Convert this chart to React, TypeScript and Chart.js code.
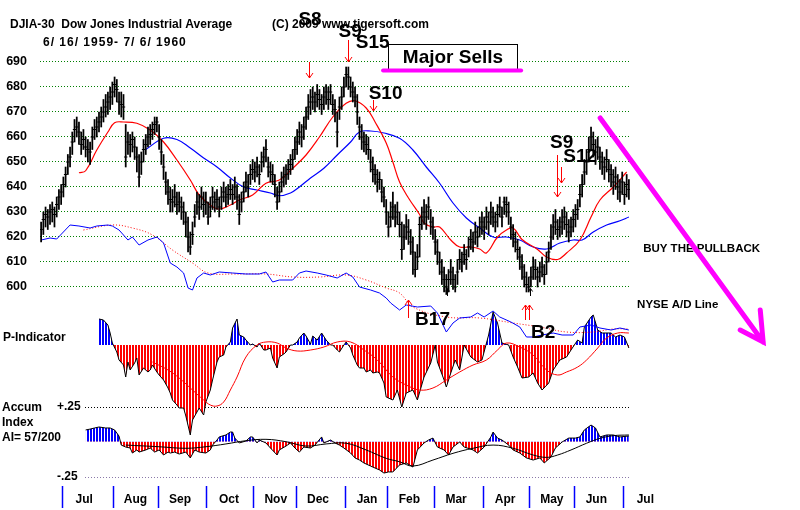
import React, { useEffect, useRef } from "react";
import { Chart, registerables } from "chart.js";

Chart.register(...registerables);

const FONT = '"Liberation Sans", Arial, Helvetica, sans-serif';

// ---------- tick labels ----------
const priceTicks = [600, 610, 620, 630, 640, 650, 660, 670, 680, 690];
const monthLabels = ["Jul", "Aug", "Sep", "Oct", "Nov", "Dec", "Jan", "Feb", "Mar", "Apr", "May", "Jun", "Jul"];
// trading-day index of the first session of each month (index 0 = 6/16/1959)
const monthStartIdx = [10, 33, 53, 75, 96, 115, 137, 156, 177, 199, 220, 240, 262];

// ---------- daily DJIA bars ----------
const highs = [
  626, 630, 632, 631, 633, 634, 632, 636, 639, 641,
  644, 648, 653, 656, 662, 667, 668, 666, 662, 663,
  660, 659, 658, 664, 667, 668, 670, 672, 675, 677,
  678, 680, 682, 684, 683, 678, 678, 677, 665, 662,
  661, 662, 660, 656, 653, 654, 659, 661, 664, 665,
  666, 668, 668, 665, 659, 653, 646, 643, 640, 639,
  641, 638, 638, 636, 634, 630, 628, 622, 626, 633,
  638, 637, 640, 638, 638, 634, 636, 640, 638, 639,
  636, 640, 642, 640, 641, 643, 641, 644, 641, 637,
  638, 642, 646, 645, 649, 651, 650, 652, 649, 654,
  656, 659, 652, 650, 649, 645, 640, 642, 646, 648,
  649, 651, 653, 655, 660, 663, 666, 665, 668, 672,
  677, 679, 680, 678, 681, 679, 677, 680, 681, 680,
  681, 677, 675, 670, 676, 680, 684, 688, 688, 684,
  682, 680, 677, 668, 665, 662, 661, 660, 655, 652,
  649, 647, 646, 643, 640, 635, 630, 634, 638, 633,
  634, 630, 626, 625, 629, 627, 623, 620, 614, 617,
  628, 632, 635, 633, 636, 631, 628, 623, 619, 614,
  611, 608, 605, 607, 611, 608, 605, 611, 615, 614,
  617, 615, 620, 623, 622, 626, 624, 628, 630, 628,
  632, 630, 634, 632, 630, 633, 636, 632, 636, 636,
  634, 628, 625, 622, 619, 616, 613, 609, 606, 604,
  608, 612, 611, 608, 610, 612, 609, 614, 618, 625,
  629, 631, 627, 628, 631, 632, 630, 627, 628, 631,
  633, 635, 641, 645, 651, 655, 660, 664, 662, 659,
  660, 656, 654, 652, 655, 651, 649, 647, 648, 645,
  643, 646, 642, 645, 643,
];
const lows = [
  618, 621, 624, 623, 625, 626, 624, 628, 631, 633,
  636, 640, 645, 648, 653, 658, 660, 657, 653, 655,
  652, 650, 649, 655, 659, 660, 662, 664, 666, 668,
  669, 671, 673, 676, 674, 669, 668, 667, 648, 653,
  652, 654, 651, 646, 640, 645, 650, 653, 656, 657,
  659, 661, 662, 655, 649, 643, 637, 633, 630, 630,
  632, 629, 630, 627, 625, 620, 614, 613, 617, 624,
  629, 627, 631, 628, 629, 625, 628, 631, 630, 631,
  628, 631, 634, 632, 633, 635, 633, 635, 631, 625,
  630, 634, 638, 636, 641, 643, 642, 644, 641, 646,
  648, 650, 644, 642, 641, 636, 631, 634, 638, 640,
  641, 643, 645, 647, 651, 653, 657, 656, 659, 663,
  667, 669, 671, 670, 672, 671, 669, 671, 673, 671,
  673, 669, 666, 656, 667, 671, 676, 680, 679, 676,
  674, 672, 665, 659, 655, 654, 653, 651, 646, 642,
  641, 638, 639, 634, 632, 625, 620, 624, 627, 624,
  625, 620, 611, 615, 619, 617, 613, 605, 604, 607,
  612, 623, 625, 623, 627, 621, 619, 613, 609, 605,
  601, 598, 597, 598, 601, 599, 598, 601, 607, 606,
  609, 607, 612, 615, 614, 617, 616, 620, 621, 619,
  623, 621, 625, 624, 622, 624, 628, 624, 629, 628,
  625, 619, 616, 614, 611, 607, 603, 600, 598, 598,
  600, 603, 603, 600, 602, 604, 601, 605, 610, 615,
  619, 621, 619, 620, 621, 623, 620, 618, 620, 622,
  624, 627, 632, 636, 641, 645, 650, 655, 652, 649,
  651, 647, 645, 643, 646, 642, 640, 637, 639, 635,
  634, 637, 633, 636, 635,
];
const closes = [
  623, 627, 629, 628, 630, 631, 629, 633, 636, 638,
  641, 645, 650, 652, 658, 663, 664, 662, 657, 659,
  656, 655, 654, 660, 663, 664, 666, 668, 670, 672,
  674, 676, 678, 681, 679, 674, 673, 672, 652, 658,
  657, 659, 656, 652, 644, 650, 655, 657, 660, 661,
  663, 665, 666, 660, 654, 648, 642, 638, 635, 634,
  636, 633, 634, 632, 630, 626, 620, 616, 621, 628,
  634, 632, 636, 633, 634, 628, 632, 636, 634, 635,
  632, 636, 638, 636, 637, 639, 637, 640, 636, 629,
  634, 638, 642, 640, 645, 647, 646, 648, 645, 650,
  652, 655, 648, 646, 645, 641, 634, 638, 642, 644,
  645, 647, 649, 651, 655, 658, 662, 660, 664, 668,
  672, 674, 676, 674, 677, 675, 673, 676, 678, 675,
  678, 673, 671, 662, 672, 676, 680, 685, 684, 680,
  678, 676, 670, 664, 660, 658, 657, 655, 650, 647,
  645, 642, 643, 638, 636, 630, 624, 628, 632, 628,
  630, 625, 615, 620, 624, 622, 618, 614, 607, 612,
  625, 628, 630, 628, 632, 626, 624, 618, 614, 610,
  606, 603, 600, 603, 606, 603, 600, 606, 611, 610,
  613, 611, 616, 619, 618, 622, 620, 624, 626, 624,
  628, 626, 630, 628, 626, 629, 632, 628, 634, 633,
  630, 624, 621, 618, 615, 612, 608, 604, 601, 600,
  604, 608, 607, 604, 606, 608, 605, 610, 614, 620,
  624, 626, 623, 624, 626, 628, 625, 622, 624, 627,
  629, 631, 637, 641, 646, 650, 655, 660, 657, 654,
  656, 652, 650, 648, 651, 647, 645, 642, 644, 640,
  638, 642, 637, 641, 639,
];

// ---------- moving averages of the DJIA (read at sampled days) ----------
const redMaIdx = [17, 20, 25, 30, 33, 37, 43, 49, 55, 61, 67, 71, 76, 80, 85, 89, 95, 101, 107, 113, 119, 125, 131, 137, 141, 146, 150, 155, 158, 161, 165, 170, 172, 176, 179, 184, 188, 193, 197, 200, 205, 209, 212, 216, 223, 227, 232, 236, 242, 247, 251, 257, 263];
const redMaVal = [645.7, 646.5, 654.8, 662, 665.7, 666, 665.5, 662.8, 658, 650.8, 642.8, 636.8, 632.8, 631.2, 632.8, 634.8, 636.8, 641.5, 642.8, 647.5, 652.8, 660, 668, 673.5, 674.5, 671.6, 666, 657.6, 650, 642, 635.6, 629, 625.6, 624, 624, 618.8, 616, 616, 615.2, 613.6, 620, 622.8, 623.6, 619, 615, 612, 611, 613.6, 618.8, 628, 634.8, 640, 646];
const blueMaIdx = [47, 55, 61, 67, 73, 79, 85, 91, 97, 103, 107, 112, 116, 121, 127, 133, 139, 143, 148, 154, 161, 167, 173, 179, 185, 191, 197, 203, 209, 215, 221, 227, 233, 239, 243, 248, 254, 260, 264];
const blueMaVal = [655, 659.5, 659, 655.6, 651.6, 648, 643.6, 640, 638.8, 637.6, 636.5, 637.6, 640, 643.6, 647.5, 652.8, 658, 662, 662.4, 661.6, 659.5, 654.8, 648, 641.5, 633.6, 627.6, 623.6, 620, 620, 618.8, 616, 615.2, 617.6, 618.8, 618.8, 622, 624.8, 626.5, 628];

// ---------- NYSE A/D line (relative units) and its average ----------
const adIdx = [0, 4, 7, 10, 13, 17, 22, 25, 30, 32, 35, 39, 41, 44, 48, 52, 55, 58, 61, 64, 66, 68, 70, 73, 76, 80, 86, 92, 98, 101, 104, 107, 113, 116, 119, 124, 128, 133, 137, 140, 143, 148, 152, 155, 157, 161, 164, 169, 175, 178, 182, 185, 188, 193, 196, 199, 203, 206, 211, 215, 218, 221, 225, 230, 234, 239, 242, 247, 251, 256, 260, 264];
const adVal = [100, 102, 101, 108, 115, 114, 112, 114, 115, 114, 110, 100, 103, 95, 100, 103, 97, 77, 73, 67, 52, 50, 62, 67, 65, 68, 67, 66, 66, 68, 58, 60, 60, 67, 69, 67, 65, 62, 67, 63, 53, 50, 47, 42, 37, 30, 35, 33, 34, 27, 8, 17, 22, 23, 27, 23, 29, 23, 18, 13, 3, 3, 5, 7, 5, 5, 13, 15, 12, 10, 12, 10];
const adMaIdx = [19, 32, 41, 50, 59, 68, 75, 86, 101, 113, 125, 137, 146, 155, 161, 167, 182, 197, 212, 224, 236, 248, 257, 264];
const adMaVal = [110, 115, 112, 105, 90, 77, 67, 66, 66, 63, 63, 65, 60, 52, 47, 33, 23, 22, 17, 13, 8, 8, 11, 11];

// ---------- P-Indicator (relative units) and its average ----------
const pIdx = [
  26, 28, 30, 31, 32, 34, 35, 37, 38, 39,
  40, 42, 43, 44, 46, 48, 49, 50, 52, 53,
  55, 57, 58, 59, 61, 62, 64, 65, 67, 68,
  70, 71, 73, 74, 76, 77, 79, 80, 82, 83,
  85, 86, 88, 89, 91, 92, 94, 95, 97, 98,
  100, 101, 103, 104, 106, 107, 109, 110, 112, 113,
  115, 116, 118, 119, 121, 122, 124, 126, 128, 130,
  131, 133, 134, 136, 137, 139, 140, 142, 143, 145,
  146, 148, 149, 151, 152, 154, 155, 158, 160, 162,
  164, 167, 169, 172, 175, 177, 178, 181, 182, 184,
  186, 188, 190, 193, 196, 198, 201, 203, 205, 207,
  210, 212, 214, 216, 219, 221, 223, 225, 228, 230,
  233, 236, 238, 241, 243, 244, 247, 248, 250, 252,
  256, 258, 260, 262, 264,
];
const pVal = [
  26, 25, 20, 12, 2, -7, -15, -20, -32, -17,
  -25, -18, -13, -30, -23, -27, -25, -20, -27, -30,
  -35, -43, -48, -55, -60, -63, -63, -71, -90, -75,
  -67, -63, -70, -57, -45, -35, -17, -12, -10, -2,
  3, 17, 26, 10, 8, 5, 0, 1, -2, 2,
  -5, -5, -3, -13, -23, -12, -9, -7, 0, 0,
  3, 7, 12, 9, 1, 9, 5, 12, 5, 0,
  0, -5, -7, 0, 3, -3, -10, -20, -23, -23,
  -27, -25, -28, -27, -28, -38, -52, -55, -45, -62,
  -48, -45, -55, -32, -18, 0, -17, -35, -42, -28,
  -15, -25, 0, -12, -17, -15, 10, 33, 22, 2,
  0, -12, -22, -33, -32, -28, -38, -45, -38, -25,
  -15, -12, -5, 5, 2, 18, 28, 30, 15, 12,
  12, 8, 10, 8, -3,
];
const pMaIdx = [50, 57, 62, 68, 73, 76, 79, 82, 85, 88, 92, 97, 101, 106, 110, 115, 121, 127, 133, 139, 145, 151, 158, 164, 170, 176, 182, 188, 194, 200, 205, 209, 215, 221, 227, 232, 236, 241, 245, 250, 254, 259, 264];
const pMaVal = [-17, -25, -33, -45, -55, -60, -61, -57, -45, -32, -12, 0, 3, 2, -3, -6, -5, -2, 3, 3, -5, -15, -32, -40, -45, -43, -35, -27, -20, -15, -5, 2, -2, -10, -25, -30, -27, -22, -15, -3, 7, 12, 12];

// ---------- Accumulation Index and its average ----------
const accIdx = [
  20, 22, 24, 26, 29, 31, 33, 35, 36, 38,
  40, 41, 43, 44, 47, 49, 51, 53, 55, 57,
  58, 60, 62, 65, 67, 69, 71, 74, 76, 77,
  79, 80, 83, 85, 86, 87, 89, 92, 94, 95,
  97, 98, 101, 103, 106, 107, 110, 112, 114, 116,
  118, 121, 123, 126, 127, 130, 132, 134, 136, 139,
  141, 143, 145, 148, 150, 152, 154, 156, 158, 161,
  164, 167, 169, 172, 174, 176, 178, 181, 183, 185,
  188, 190, 194, 196, 199, 202, 203, 205, 207, 210,
  212, 215, 218, 221, 224, 226, 229, 231, 234, 237,
  240, 242, 244, 247, 249, 251, 254, 257, 260, 264,
];
const accVal = [
  0.084, 0.09, 0.098, 0.105, 0.098, 0.098, 0.084, 0.04, -0.024, -0.038,
  -0.045, -0.081, -0.059, -0.074, -0.059, -0.045, -0.074, -0.059, -0.095, -0.074,
  -0.081, -0.074, -0.088, -0.074, -0.116, -0.059, -0.074, -0.081, -0.059, -0.024,
  0.012, 0.034, 0.048, 0.069, 0.069, 0.026, -0.009, 0.005, 0.034, 0.034,
  -0.009, 0.012, -0.009, -0.045, -0.095, -0.059, -0.031, -0.009, -0.045, -0.074,
  -0.038, -0.045, -0.024, 0.034, -0.009, 0.012, -0.009, -0.024, -0.045, -0.081,
  -0.116, -0.131, -0.152, -0.174, -0.188, -0.202, -0.224, -0.216, -0.216, -0.166,
  -0.152, -0.181, -0.059, -0.009, 0.012, 0.026, -0.038, -0.059, -0.095, -0.038,
  -0.002, -0.038, -0.059, -0.081, -0.038, 0.034, 0.069, 0.026, 0.012, -0.024,
  -0.059, -0.081, -0.116, -0.131, -0.116, -0.152, -0.109, -0.045, -0.002, 0.026,
  0.026, 0.034, 0.084, 0.119, 0.098, 0.034, 0.048, 0.048, 0.034, 0.041,
];
const accMaIdx = [38, 53, 65, 74, 83, 92, 101, 110, 119, 128, 137, 146, 155, 161, 167, 176, 185, 194, 203, 212, 221, 227, 232, 238, 245, 251, 257, 264];
const accMaVal = [-0.024, -0.036, -0.047, -0.036, -0.016, 0.007, 0.017, 0, -0.031, -0.016, -0.011, -0.059, -0.119, -0.143, -0.174, -0.131, -0.083, -0.047, -0.024, -0.047, -0.095, -0.112, -0.095, -0.059, -0.011, 0.024, 0.043, 0.048];
const accRefLevels = [0.25, -0.25];

// ---------- annotation anchors (day index, DJIA level) ----------
const signalTexts = [
  { text: "S8", i: 120.8, p: 706.8 },
  { text: "S9", i: 138.8, p: 702.2 },
  { text: "S15", i: 148.9, p: 697.8 },
  { text: "S10", i: 154.7, p: 677.4 },
  { text: "S9", i: 233.8, p: 657.6 },
  { text: "S12", i: 242.1, p: 652.0 },
  { text: "B17", i: 175.8, p: 586.8 },
  { text: "B2", i: 225.5, p: 581.6 },
];
const sellArrows = [
  { i: 120.3, from: 690.0, to: 683.6 },
  { i: 137.9, from: 698.8, to: 690.0 },
  { i: 149.1, from: 674.8, to: 670.4 },
  { i: 231.8, from: 652.8, to: 636.0 },
  { i: 233.5, from: 648.0, to: 641.6 },
];
const buyArrows = [
  { i: 164.8, from: 587.6, to: 594.8 },
  { i: 217.4, from: 586.8, to: 592.8 },
  { i: 219.2, from: 586.8, to: 592.8 },
];
const markerArrows = [
  { i: 182.3, from: 596.4, to: 599.4 },
  { i: 219.6, from: 596.4, to: 599.4 },
];
const majorSellsBox = { i1: 155.8, i2: 213.8, pTop: 697.2, pBottom: 686.8, underlineI1: 153.6, underlineI2: 215.6 };
const trendArrow = { i1: 251.1, p1: 667.6, i2: 324.3, p2: 578.0, wingA: [314.0, 582.8], wingB: [323.0, 590.8] };
const sideNotes = [
  { text: "BUY THE PULLBACK", i: 270.4, p: 615.2 },
  { text: "NYSE A/D Line", i: 267.7, p: 592.8 },
];

const pts = (idx: number[], val: number[]) => idx.map((x, k) => ({ x, y: val[k] }));
const f = (size: number) => `bold ${size}px ${FONT}`;

function stripe(color: string) {
  const c = document.createElement("canvas");
  c.width = 3;
  c.height = 1;
  const g = c.getContext("2d")!;
  g.fillStyle = color;
  g.fillRect(0, 0, 2, 1);
  return g.createPattern(c, "repeat")!;
}

const annotations = {
  id: "tigerAnnotations",
  beforeDatasetsDraw(chart: any) {
    const { ctx, chartArea, scales } = chart;
    ctx.save();
    ctx.lineWidth = 1;
    ctx.setLineDash([1, 2]);
    accRefLevels.forEach((lv, k) => {
      const y = Math.round(scales.yAcc.getPixelForValue(lv)) + 0.5;
      ctx.strokeStyle = k === 0 ? "#000000" : "#8a78a8";
      ctx.beginPath();
      ctx.moveTo(chartArea.left + 45, y);
      ctx.lineTo(chartArea.right, y);
      ctx.stroke();
    });
    ctx.restore();
  },
  afterDraw(chart: any) {
    const { ctx, scales } = chart;
    const X = (i: number) => scales.x.getPixelForValue(i);
    const Y = (p: number) => scales.y.getPixelForValue(p);
    const A = (v: number) => scales.yAcc.getPixelForValue(v);
    ctx.save();
    ctx.textBaseline = "middle";
    ctx.fillStyle = "#000";

    // accumulation reference labels
    ctx.font = f(12);
    ctx.textAlign = "left";
    ctx.fillText("+.25", 57, A(0.25));
    ctx.fillText("-.25", 57, A(-0.25));

    // panel labels
    ctx.fillText("P-Indicator", 3, 338);
    ctx.fillText("Accum", 2, 408);
    ctx.fillText("Index", 2, 423);
    ctx.fillText("AI= 57/200", 2, 438);

    // header
    ctx.fillText("DJIA-30  Dow Jones Industrial Average", 10, 25);
    ctx.fillText("(C) 2009 www.tigersoft.com", 272, 25);
    (ctx as any).letterSpacing = "1px";
    ctx.fillText("6/ 16/ 1959- 7/ 6/ 1960", 43, 43);
    (ctx as any).letterSpacing = "0px";

    // side notes
    ctx.font = f(11.5);
    sideNotes.forEach((n) => ctx.fillText(n.text, X(n.i), Y(n.p)));

    // arrows
    ctx.lineWidth = 1;
    const arrow = (x: number, y1: number, y2: number, color: string, head: number) => {
      const dir = y2 > y1 ? 1 : -1;
      ctx.strokeStyle = color;
      ctx.beginPath();
      ctx.moveTo(x, y1);
      ctx.lineTo(x, y2);
      ctx.moveTo(x - head * 0.7, y2 - dir * head);
      ctx.lineTo(x, y2);
      ctx.lineTo(x + head * 0.7, y2 - dir * head);
      ctx.stroke();
    };
    sellArrows.forEach((a) => arrow(Math.round(X(a.i)) + 0.5, Y(a.from), Y(a.to), "#ff0000", 5));
    buyArrows.forEach((a) => arrow(Math.round(X(a.i)) + 0.5, Y(a.from), Y(a.to), "#ff0000", 5));
    markerArrows.forEach((a) => arrow(Math.round(X(a.i)) + 0.5, Y(a.from), Y(a.to), "#000000", 3));

    // signal labels
    ctx.fillStyle = "#000";
    ctx.font = f(19);
    ctx.textAlign = "center";
    signalTexts.forEach((s) => ctx.fillText(s.text, X(s.i), Y(s.p)));

    // Major Sells box
    const bx1 = Math.round(X(majorSellsBox.i1)) + 0.5;
    const bx2 = Math.round(X(majorSellsBox.i2)) + 0.5;
    const by1 = Math.round(Y(majorSellsBox.pTop)) + 0.5;
    const by2 = Math.round(Y(majorSellsBox.pBottom)) + 0.5;
    ctx.fillStyle = "#fff";
    ctx.fillRect(bx1, by1, bx2 - bx1, by2 - by1);
    ctx.strokeStyle = "#000";
    ctx.lineWidth = 1;
    ctx.strokeRect(bx1, by1, bx2 - bx1, by2 - by1);
    ctx.fillStyle = "#000";
    ctx.font = f(19);
    ctx.fillText("Major Sells", (bx1 + bx2) / 2, (by1 + by2) / 2);
    ctx.strokeStyle = "#ff00ff";
    ctx.lineWidth = 4;
    ctx.lineCap = "round";
    ctx.beginPath();
    ctx.moveTo(X(majorSellsBox.underlineI1), by2);
    ctx.lineTo(X(majorSellsBox.underlineI2), by2);
    ctx.stroke();

    // big magenta trend arrow
    ctx.lineWidth = 5;
    ctx.beginPath();
    ctx.moveTo(X(trendArrow.i1), Y(trendArrow.p1));
    ctx.lineTo(X(trendArrow.i2), Y(trendArrow.p2));
    ctx.moveTo(X(trendArrow.wingA[0]), Y(trendArrow.wingA[1]));
    ctx.lineTo(X(trendArrow.i2), Y(trendArrow.p2));
    ctx.lineTo(X(trendArrow.wingB[0]), Y(trendArrow.wingB[1]));
    ctx.stroke();

    ctx.restore();
  },
};

export default function App() {
  const ref = useRef<HTMLCanvasElement | null>(null);

  useEffect(() => {
    document.body.style.margin = "0";
    const canvas = ref.current;
    if (!canvas) return;
    Chart.defaults.font.family = FONT;
    const bluePat = stripe("#0000ff");
    const redPat = stripe("#ff0000");

    const chart = new Chart(canvas, {
      type: "bar",
      data: {
        datasets: [
          {
            type: "line",
            label: "Close",
            data: closes.map((c, i) => ({ x: i, y: c })),
            yAxisID: "y",
            showLine: false,
            pointStyle: "line",
            pointRadius: 1.7,
            pointBorderWidth: 1,
            pointBorderColor: "#000",
            pointHoverRadius: 1.7,
            order: 0,
          } as any,
          {
            type: "bar",
            label: "High-Low",
            data: highs.map((h, i) => ({ x: i, y: [lows[i], h] })),
            yAxisID: "y",
            backgroundColor: "#000",
            barThickness: 1.1,
            grouped: false,
            order: 1,
          } as any,
          {
            type: "line",
            label: "21-day MA",
            data: pts(redMaIdx, redMaVal),
            yAxisID: "y",
            borderColor: "#ff0000",
            borderWidth: 1.2,
            pointRadius: 0,
            tension: 0.4,
            fill: false,
            order: 2,
          } as any,
          {
            type: "line",
            label: "50-day MA",
            data: pts(blueMaIdx, blueMaVal),
            yAxisID: "y",
            borderColor: "#0000ff",
            borderWidth: 1.2,
            pointRadius: 0,
            tension: 0.4,
            fill: false,
            order: 3,
          } as any,
          {
            type: "line",
            label: "NYSE A/D Line",
            data: pts(adIdx, adVal),
            yAxisID: "yAD",
            borderColor: "#0000ff",
            borderWidth: 1,
            pointRadius: 0,
            tension: 0,
            fill: false,
            order: 4,
          } as any,
          {
            type: "line",
            label: "A/D MA",
            data: pts(adMaIdx, adMaVal),
            yAxisID: "yAD",
            borderColor: "#ff0000",
            borderWidth: 1,
            borderDash: [1, 2],
            pointRadius: 0,
            tension: 0.4,
            fill: false,
            order: 5,
          } as any,
          {
            type: "line",
            label: "P-Indicator",
            data: pts(pIdx, pVal),
            yAxisID: "yP",
            borderColor: "#000",
            borderWidth: 1,
            pointRadius: 0,
            tension: 0,
            fill: { target: { value: 0 }, above: bluePat, below: redPat },
            order: 7,
          } as any,
          {
            type: "line",
            label: "P-Indicator MA",
            data: pts(pMaIdx, pMaVal),
            yAxisID: "yP",
            borderColor: "#ff0000",
            borderWidth: 1,
            pointRadius: 0,
            tension: 0.4,
            fill: false,
            order: 6,
          } as any,
          {
            type: "line",
            label: "Accum Index",
            data: pts(accIdx, accVal),
            yAxisID: "yAcc",
            borderColor: "#000",
            borderWidth: 1,
            pointRadius: 0,
            tension: 0,
            fill: { target: { value: 0 }, above: bluePat, below: redPat },
            order: 9,
          } as any,
          {
            type: "line",
            label: "Accum MA",
            data: pts(accMaIdx, accMaVal),
            yAxisID: "yAcc",
            borderColor: "#000",
            borderWidth: 1,
            pointRadius: 0,
            tension: 0.4,
            fill: false,
            order: 8,
          } as any,
        ],
      },
      options: {
        animation: false,
        responsive: false,
        maintainAspectRatio: false,
        events: [],
        layout: { padding: { top: 50, right: 170, left: 0, bottom: 0 } },
        plugins: {
          legend: { display: false },
          tooltip: { enabled: false },
          title: { display: false },
        },
        scales: {
          x: {
            type: "linear",
            min: -0.5,
            max: 264.5,
            offset: false,
            afterBuildTicks: (axis: any) => {
              axis.ticks = monthStartIdx.map((v) => ({ value: v - 0.5 }));
            },
            afterFit: (axis: any) => {
              axis.height = 24;
            },
            grid: {
              offset: false,
              drawOnChartArea: false,
              drawTicks: true,
              tickLength: 22,
              color: "#0000ff",
              tickColor: "#0000ff",
              tickWidth: 1.5,
            },
            border: { display: false },
            ticks: {
              autoSkip: false,
              maxRotation: 0,
              minRotation: 0,
              labelOffset: 22,
              padding: -16,
              color: "#000",
              font: { size: 12, weight: "bold", family: FONT },
              callback: (_v: any, i: number) => monthLabels[i] ?? "",
            },
          } as any,
          y: {
            type: "linear",
            position: "left",
            min: 520.4,
            max: 694.8,
            afterBuildTicks: (axis: any) => {
              axis.ticks = priceTicks.map((v) => ({ value: v }));
            },
            afterFit: (axis: any) => {
              axis.width = 40;
            },
            grid: { color: "#008000", lineWidth: 1, drawTicks: false },
            border: { display: false, dash: [1, 2] },
            ticks: {
              padding: 13,
              color: "#000",
              font: { size: 12.5, weight: "bold", family: FONT },
              callback: (v: any) => String(v),
            },
          } as any,
          yAD: { type: "linear", display: false, min: -146, max: 290 },
          yP: { type: "linear", display: false, min: -141, max: 295 },
          yAcc: { type: "linear", display: false, min: -0.3164, max: 2.7979 },
        },
      } as any,
      plugins: [annotations as any],
    });

    return () => chart.destroy();
  }, []);

  return (
    <div style={{ width: 800, height: 510, background: "#fff" }}>
      <canvas ref={ref} width={800} height={510} style={{ display: "block", width: 800, height: 510 }} />
    </div>
  );
}
